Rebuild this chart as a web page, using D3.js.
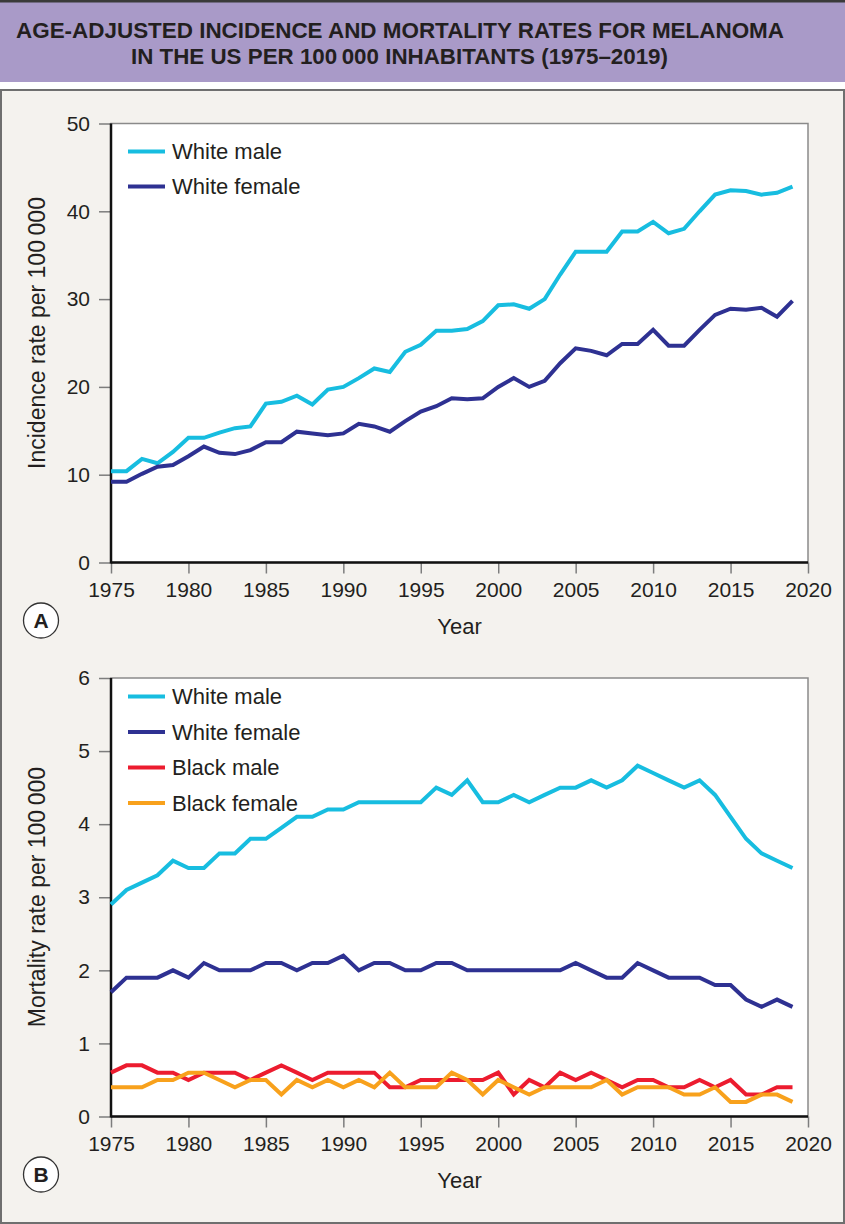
<!DOCTYPE html>
<html lang="en">
<head>
<meta charset="UTF-8">
<title>Melanoma incidence and mortality, US 1975-2019</title>
<script src="https://cdn.jsdelivr.net/npm/d3@7"></script>
<style>
  body { margin: 0; background: #fff; }
  svg text { font-family: "Liberation Sans", Arial, sans-serif; fill: #231f20; }
  .tick line { stroke: #7d7d7d; stroke-width: 1.5; }
</style>
</head>
<body>
<script>
// data
const years = d3.range(1975, 2020);
const xTicks = [1975, 1980, 1985, 1990, 1995, 2000, 2005, 2010, 2015, 2020];

// panel A: incidence per 100 000
const incTicks = [0, 10, 20, 30, 40, 50];
const incWhiteMale = [10.4, 10.4, 11.8, 11.3, 12.6, 14.2, 14.2, 14.8, 15.3, 15.5,
  18.1, 18.3, 19.0, 18.0, 19.7, 20.0, 21.0, 22.1, 21.7, 24.0,
  24.8, 26.4, 26.4, 26.6, 27.5, 29.3, 29.4, 28.9, 30.0, 32.8,
  35.4, 35.4, 35.4, 37.7, 37.7, 38.8, 37.5, 38.0, 40.0, 41.9,
  42.4, 42.3, 41.9, 42.1, 42.8];
const incWhiteFemale = [9.2, 9.2, 10.1, 10.9, 11.1, 12.1, 13.2, 12.5, 12.35, 12.8,
  13.7, 13.7, 14.9, 14.7, 14.5, 14.7, 15.8, 15.5, 14.9, 16.1,
  17.2, 17.8, 18.7, 18.6, 18.7, 20.0, 21.0, 20.0, 20.7, 22.7,
  24.4, 24.1, 23.6, 24.9, 24.9, 26.5, 24.7, 24.7, 26.5, 28.2,
  28.9, 28.8, 29.0, 28.0, 29.8];

// panel B: mortality per 100 000
const morTicks = [0, 1, 2, 3, 4, 5, 6];
const morWhiteMale = [2.9, 3.1, 3.2, 3.3, 3.5, 3.4, 3.4, 3.6, 3.6, 3.8,
  3.8, 3.95, 4.1, 4.1, 4.2, 4.2, 4.3, 4.3, 4.3, 4.3,
  4.3, 4.5, 4.4, 4.6, 4.3, 4.3, 4.4, 4.3, 4.4, 4.5,
  4.5, 4.6, 4.5, 4.6, 4.8, 4.7, 4.6, 4.5, 4.6, 4.4,
  4.1, 3.8, 3.6, 3.5, 3.4];
const morWhiteFemale = [1.7, 1.9, 1.9, 1.9, 2.0, 1.9, 2.1, 2.0, 2.0, 2.0,
  2.1, 2.1, 2.0, 2.1, 2.1, 2.2, 2.0, 2.1, 2.1, 2.0,
  2.0, 2.1, 2.1, 2.0, 2.0, 2.0, 2.0, 2.0, 2.0, 2.0,
  2.1, 2.0, 1.9, 1.9, 2.1, 2.0, 1.9, 1.9, 1.9, 1.8,
  1.8, 1.6, 1.5, 1.6, 1.5];
const morBlackMale = [0.6, 0.7, 0.7, 0.6, 0.6, 0.5, 0.6, 0.6, 0.6, 0.5,
  0.6, 0.7, 0.6, 0.5, 0.6, 0.6, 0.6, 0.6, 0.4, 0.4,
  0.5, 0.5, 0.5, 0.5, 0.5, 0.6, 0.3, 0.5, 0.4, 0.6,
  0.5, 0.6, 0.5, 0.4, 0.5, 0.5, 0.4, 0.4, 0.5, 0.4,
  0.5, 0.3, 0.3, 0.4, 0.4];
const morBlackFemale = [0.4, 0.4, 0.4, 0.5, 0.5, 0.6, 0.6, 0.5, 0.4, 0.5,
  0.5, 0.3, 0.5, 0.4, 0.5, 0.4, 0.5, 0.4, 0.6, 0.4,
  0.4, 0.4, 0.6, 0.5, 0.3, 0.5, 0.4, 0.3, 0.4, 0.4,
  0.4, 0.4, 0.5, 0.3, 0.4, 0.4, 0.4, 0.3, 0.3, 0.4,
  0.2, 0.2, 0.3, 0.3, 0.2];

const colors = {
  "White male": "#17bde0",
  "White female": "#2e3192",
  "Black male": "#ec1c2f",
  "Black female": "#f8a11c"
};

const W = 845, H = 1224;
const svg = d3.select("body").append("svg")
  .attr("width", W)
  .attr("height", H);

// page background + frame
svg.append("rect").attr("width", W).attr("height", H).attr("fill", "#fff");
svg.append("rect").attr("x", 1).attr("y", 90).attr("width", W - 2).attr("height", H - 91)
  .attr("fill", "#f4f2ee").attr("stroke", "#6f6f6f").attr("stroke-width", 2);
svg.append("rect").attr("x", 0).attr("y", 0).attr("width", W).attr("height", 82)
  .attr("fill", "#a99ac8");
svg.append("rect").attr("x", 0).attr("y", 0).attr("width", W).attr("height", 2.5)
  .attr("fill", "#3a3a3a");

// title
const title = svg.append("g").attr("font-weight", "bold").attr("font-size", 21.5)
  .attr("text-anchor", "middle");
title.append("text").attr("x", 400).attr("y", 38)
  .attr("textLength", 768).attr("lengthAdjust", "spacingAndGlyphs")
  .text("AGE-ADJUSTED INCIDENCE AND MORTALITY RATES FOR MELANOMA");
title.append("text").attr("x", 399.5).attr("y", 64)
  .attr("textLength", 537).attr("lengthAdjust", "spacingAndGlyphs")
  .text("IN THE US PER 100\u2009000 INHABITANTS (1975\u20132019)");

function drawPanel(p) {
  const x = d3.scaleLinear().domain([1975, 2020]).range([p.left, p.right]);
  const y = d3.scaleLinear().domain([0, d3.max(p.yTicks)]).range([p.bottom, p.top]);
  const g = svg.append("g");

  // plot area
  g.append("rect")
    .attr("x", p.left).attr("y", p.top)
    .attr("width", p.right - p.left).attr("height", p.bottom - p.top)
    .attr("fill", "#fff").attr("stroke", "#8a8a8a").attr("stroke-width", 1.5);

  // axes
  g.append("g")
    .attr("transform", "translate(0," + p.bottom + ")")
    .call(d3.axisBottom(x).tickValues(xTicks).tickFormat(d3.format("d"))
      .tickSize(11).tickPadding(9))
    .call(a => a.select(".domain").remove())
    .call(a => a.selectAll("text").attr("font-size", 21).attr("font-family", null));
  g.append("g")
    .attr("transform", "translate(" + p.left + ",0)")
    .call(d3.axisLeft(y).tickValues(p.yTicks).tickFormat(d3.format("d"))
      .tickSize(12).tickPadding(9))
    .call(a => a.select(".domain").remove())
    .call(a => a.selectAll("text").attr("font-size", 21).attr("font-family", null));

  g.append("line")
    .attr("x1", p.left).attr("x2", p.left).attr("y1", p.top).attr("y2", p.bottom + 1)
    .attr("stroke", "#111").attr("stroke-width", 2.5);
  g.append("line")
    .attr("x1", p.left).attr("x2", p.right).attr("y1", p.bottom).attr("y2", p.bottom)
    .attr("stroke", "#111").attr("stroke-width", 2.5);

  // series
  const line = d3.line()
    .x((d, i) => x(years[i]))
    .y(d => y(d));
  p.series.forEach(s => {
    g.append("path")
      .datum(s.values)
      .attr("fill", "none")
      .attr("stroke", colors[s.name])
      .attr("stroke-width", 4)
      .attr("stroke-linejoin", "miter")
      .attr("d", line);
  });

  // legend
  const leg = g.selectAll(".leg").data(p.series).enter().append("g")
    .attr("transform", (d, i) => "translate(128," + (p.legendY + i * p.legendStep) + ")");
  leg.append("line")
    .attr("x1", 0).attr("x2", 37)
    .attr("stroke", d => colors[d.name]).attr("stroke-width", 4);
  leg.append("text")
    .attr("x", 44).attr("dy", "0.36em")
    .attr("font-size", 22)
    .text(d => d.name);

  // axis titles
  g.append("text")
    .attr("x", (p.left + p.right) / 2).attr("y", p.bottom + 71)
    .attr("text-anchor", "middle").attr("font-size", 22)
    .text("Year");
  g.append("text")
    .attr("transform", "translate(45," + p.yTitleY + ") rotate(-90)")
    .attr("text-anchor", "middle").attr("font-size", 23)
    .text(p.yTitle);

  // panel letter
  g.append("circle")
    .attr("cx", 41).attr("cy", p.bottom + 58).attr("r", 17.5)
    .attr("fill", "#fff").attr("stroke", "#333").attr("stroke-width", 1.3);
  g.append("text")
    .attr("x", 41).attr("y", p.bottom + 58).attr("dy", "0.36em")
    .attr("text-anchor", "middle").attr("font-size", 21).attr("font-weight", "bold")
    .text(p.letter);
}

drawPanel({
  left: 111, right: 808, top: 123.5, bottom: 562.5,
  yTicks: incTicks,
  yTitle: "Incidence rate per 100\u2009000", yTitleY: 333,
  legendY: 151.5, legendStep: 35,
  letter: "A",
  series: [
    { name: "White male", values: incWhiteMale },
    { name: "White female", values: incWhiteFemale }
  ]
});

drawPanel({
  left: 111, right: 808, top: 678, bottom: 1116.5,
  yTicks: morTicks,
  yTitle: "Mortality rate per 100\u2009000", yTitleY: 897,
  legendY: 696.5, legendStep: 35.5,
  letter: "B",
  series: [
    { name: "White male", values: morWhiteMale },
    { name: "White female", values: morWhiteFemale },
    { name: "Black male", values: morBlackMale },
    { name: "Black female", values: morBlackFemale }
  ]
});
</script>
</body>
</html>
